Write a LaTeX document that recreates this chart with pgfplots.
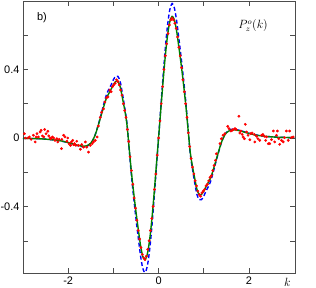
\documentclass[border=0pt]{standalone}
\usepackage{fontspec}
\setmainfont{Liberation Sans}
\usepackage{pgfplots}
\pgfplotsset{compat=1.18}
\definecolor{dgreen}{rgb}{0,0.5,0}
\begin{document}
\begin{tikzpicture}
\path[use as bounding box] (-23bp,-14.7bp) rectangle (293bp,273.3bp);
\begin{axis}[
  at={(0,0)}, anchor=south west, scale only axis,
  width=272bp, height=272.3bp,
  xmin=-3, xmax=3.02, ymin=-0.79, ymax=0.80,
  xtick={-2,-1,0,1,2}, xticklabels={-2,,0,,2},
  ytick={-0.6,-0.4,-0.2,0,0.2,0.4,0.6}, yticklabels={,-0.4,,0,,0.4,},
  tick align=inside, tick pos=both,
  major tick length=5bp,
  axis line style={black!70, line width=0.6pt},
  tick style={black!70, line width=0.5pt},
  tick label style={font=\fontsize{11}{12}\selectfont},
  clip mode=individual,
]
% blue dashed
\addplot[blue, dashed, line width=1.4pt, dash pattern=on 4bp off 2.5bp, smooth] coordinates {
(-3.00,-0.002)(-2.80,-0.003)(-2.60,-0.005)(-2.40,-0.009)(-2.20,-0.016)(-2.10,-0.021)(-2.00,-0.028)(-1.90,-0.036)(-1.80,-0.044)(-1.70,-0.050)(-1.65,-0.052)(-1.60,-0.050)(-1.55,-0.043)(-1.50,-0.032)(-1.45,-0.011)(-1.40,0.020)(-1.35,0.063)(-1.30,0.110)(-1.25,0.160)(-1.20,0.210)(-1.15,0.255)(-1.10,0.285)(-1.05,0.310)(-1.00,0.340)(-0.95,0.360)(-0.90,0.360)(-0.85,0.330)(-0.80,0.260)(-0.75,0.180)(-0.70,0.088)(-0.65,-0.066)(-0.60,-0.220)(-0.55,-0.350)(-0.50,-0.470)(-0.45,-0.580)(-0.40,-0.685)(-0.35,-0.760)(-0.30,-0.785)(-0.25,-0.750)(-0.20,-0.660)(-0.15,-0.525)(-0.10,-0.360)(-0.05,-0.180)
(0.00,0.000)(0.05,0.180)(0.10,0.360)(0.15,0.525)(0.20,0.660)(0.25,0.750)(0.30,0.785)(0.35,0.760)(0.40,0.685)(0.45,0.580)(0.50,0.470)(0.55,0.350)(0.60,0.220)(0.65,0.066)(0.70,-0.088)(0.75,-0.180)(0.80,-0.260)(0.85,-0.330)(0.90,-0.360)(0.95,-0.360)(1.00,-0.340)(1.05,-0.310)(1.10,-0.285)(1.15,-0.255)(1.20,-0.210)(1.25,-0.160)(1.30,-0.110)(1.35,-0.063)(1.40,-0.020)(1.45,0.011)(1.50,0.032)(1.55,0.043)(1.60,0.050)(1.65,0.052)(1.70,0.050)(1.80,0.044)(1.90,0.036)(2.00,0.028)(2.10,0.021)(2.20,0.016)(2.40,0.009)(2.60,0.005)(2.80,0.003)(3.00,0.002)
};
% green solid
\addplot[dgreen, line width=1.4pt, smooth] coordinates {
(-3.00,-0.002)(-2.80,-0.003)(-2.60,-0.005)(-2.40,-0.009)(-2.20,-0.015)(-2.10,-0.020)(-2.00,-0.027)(-1.90,-0.034)(-1.80,-0.042)(-1.70,-0.047)(-1.65,-0.048)(-1.60,-0.046)(-1.55,-0.040)(-1.50,-0.030)(-1.45,-0.010)(-1.40,0.020)(-1.35,0.060)(-1.30,0.105)(-1.25,0.150)(-1.20,0.195)(-1.15,0.235)(-1.10,0.260)(-1.05,0.285)(-1.00,0.310)(-0.95,0.330)(-0.90,0.330)(-0.85,0.300)(-0.80,0.235)(-0.75,0.165)(-0.70,0.080)(-0.65,-0.060)(-0.60,-0.200)(-0.55,-0.320)(-0.50,-0.430)(-0.45,-0.530)(-0.40,-0.625)(-0.35,-0.690)(-0.30,-0.710)(-0.25,-0.680)(-0.20,-0.600)(-0.15,-0.480)(-0.10,-0.330)(-0.05,-0.165)
(0.00,0.000)(0.05,0.165)(0.10,0.330)(0.15,0.480)(0.20,0.600)(0.25,0.680)(0.30,0.710)(0.35,0.690)(0.40,0.625)(0.45,0.530)(0.50,0.430)(0.55,0.320)(0.60,0.200)(0.65,0.060)(0.70,-0.080)(0.75,-0.165)(0.80,-0.235)(0.85,-0.300)(0.90,-0.330)(0.95,-0.330)(1.00,-0.310)(1.05,-0.285)(1.10,-0.260)(1.15,-0.235)(1.20,-0.195)(1.25,-0.150)(1.30,-0.105)(1.35,-0.060)(1.40,-0.020)(1.45,0.010)(1.50,0.030)(1.55,0.040)(1.60,0.046)(1.65,0.048)(1.70,0.047)(1.80,0.042)(1.90,0.034)(2.00,0.027)(2.10,0.020)(2.20,0.015)(2.40,0.009)(2.60,0.005)(2.80,0.003)(3.00,0.002)
};
% red data points
\addplot[only marks, mark=*, mark size=1.2pt, red, mark options={draw=none, fill=red}] coordinates {
(-2.97,0.025)(-2.95,0.000)(-2.89,0.000)(-2.86,0.006)(-2.82,-0.008)(-2.77,0.016)(-2.73,-0.023)(-2.71,0.006)(-2.69,0.025)(-2.66,0.006)(-2.62,0.035)(-2.60,0.045)(-2.57,0.012)(-2.54,0.006)(-2.52,0.050)(-2.49,0.025)(-2.45,0.039)(-2.43,0.012)(-2.40,0.000)(-2.38,-0.004)(-2.35,0.006)(-2.32,0.000)(-2.29,-0.014)(-2.25,-0.004)(-2.23,-0.023)(-2.20,-0.008)(-2.15,-0.062)(-2.14,-0.008)(-2.10,0.016)(-2.07,0.006)(-2.03,-0.019)(-2.01,0.000)(-1.98,-0.033)(-1.95,-0.043)(-1.93,-0.023)(-1.90,-0.014)(-1.88,-0.039)(-1.86,-0.033)(-1.83,-0.043)(-1.81,-0.019)(-1.77,-0.043)(-1.73,-0.066)(-1.70,-0.039)(-1.66,-0.053)(-1.62,-0.023)(-1.59,-0.053)(-1.55,-0.082)(-1.51,-0.043)(-1.47,-0.033)(-1.44,-0.023)(-1.40,-0.014)(-1.36,0.006)
(-1.33,0.070)(-1.29,0.120)(-1.26,0.150)(-1.22,0.170)(-1.19,0.210)(-1.15,0.235)(-1.12,0.240)(-1.08,0.280)(-1.05,0.270)(-1.02,0.300)(-0.99,0.310)(-0.96,0.320)(-0.93,0.340)(-0.90,0.330)(-0.87,0.310)(-0.84,0.280)(-0.81,0.250)(-0.78,0.200)(-0.75,0.160)(-0.72,0.120)(-0.69,0.050)(-0.66,-0.020)(-0.63,-0.110)(-0.60,-0.190)(-0.57,-0.270)(-0.54,-0.350)(-0.51,-0.410)(-0.48,-0.480)(-0.45,-0.540)(-0.42,-0.590)(-0.39,-0.640)(-0.36,-0.680)(-0.33,-0.700)(-0.30,-0.710)(-0.27,-0.690)(-0.24,-0.650)(-0.21,-0.600)(-0.18,-0.540)(-0.15,-0.470)(-0.12,-0.400)(-0.09,-0.300)(-0.06,-0.210)(-0.03,-0.100)
(0.00,0.000)(0.03,0.100)(0.06,0.200)(0.09,0.300)(0.12,0.400)(0.15,0.480)(0.18,0.550)(0.21,0.610)(0.24,0.660)(0.27,0.690)(0.30,0.700)(0.33,0.690)(0.36,0.670)(0.39,0.640)(0.42,0.590)(0.45,0.530)(0.48,0.480)(0.51,0.410)(0.54,0.340)(0.57,0.270)(0.60,0.200)(0.63,0.120)(0.66,0.030)(0.69,-0.050)(0.72,-0.120)(0.75,-0.170)(0.78,-0.210)(0.81,-0.250)(0.84,-0.280)(0.87,-0.310)(0.90,-0.330)(0.93,-0.340)(0.96,-0.320)(0.99,-0.310)(1.02,-0.300)(1.05,-0.280)(1.08,-0.270)(1.11,-0.250)(1.14,-0.230)(1.17,-0.220)(1.20,-0.190)(1.23,-0.160)(1.26,-0.130)
(1.28,-0.092)(1.36,-0.033)(1.39,-0.004)(1.43,0.016)(1.47,0.025)(1.53,0.068)(1.56,0.055)(1.60,0.041)(1.63,0.045)(1.65,0.049)(1.69,0.055)(1.72,0.049)(1.78,0.127)(1.80,0.029)(1.82,0.041)(1.85,0.021)(1.87,0.006)(1.90,-0.004)(1.92,0.080)(1.95,0.035)(1.98,0.016)(2.02,-0.010)(2.04,0.025)(2.07,0.029)(2.12,0.021)(2.13,-0.023)(2.17,0.010)(2.20,-0.004)(2.24,-0.014)(2.28,0.016)(2.31,0.021)(2.34,0.010)(2.37,-0.014)(2.39,0.006)(2.43,-0.033)(2.46,-0.033)(2.50,-0.010)(2.54,0.041)(2.57,-0.023)(2.61,0.016)(2.63,0.041)(2.66,-0.004)(2.68,-0.037)(2.72,-0.014)(2.76,-0.023)(2.79,0.002)(2.83,0.041)(2.87,-0.014)(2.90,0.041)(2.94,0.002)(2.98,0.006)
};
\node[font=\fontsize{11}{12}\selectfont, anchor=west, inner sep=0pt] at (rel axis cs:0.051,0.937) {b)};
\node[font=\fontsize{12}{14}\selectfont] at (rel axis cs:0.846,0.91) {$P_z^o(k)$};
\node[font=\fontsize{12}{14}\selectfont, anchor=base, yshift=-13bp] at (rel axis cs:0.972,0) {$k$};
\end{axis}
\end{tikzpicture}
\end{document}
